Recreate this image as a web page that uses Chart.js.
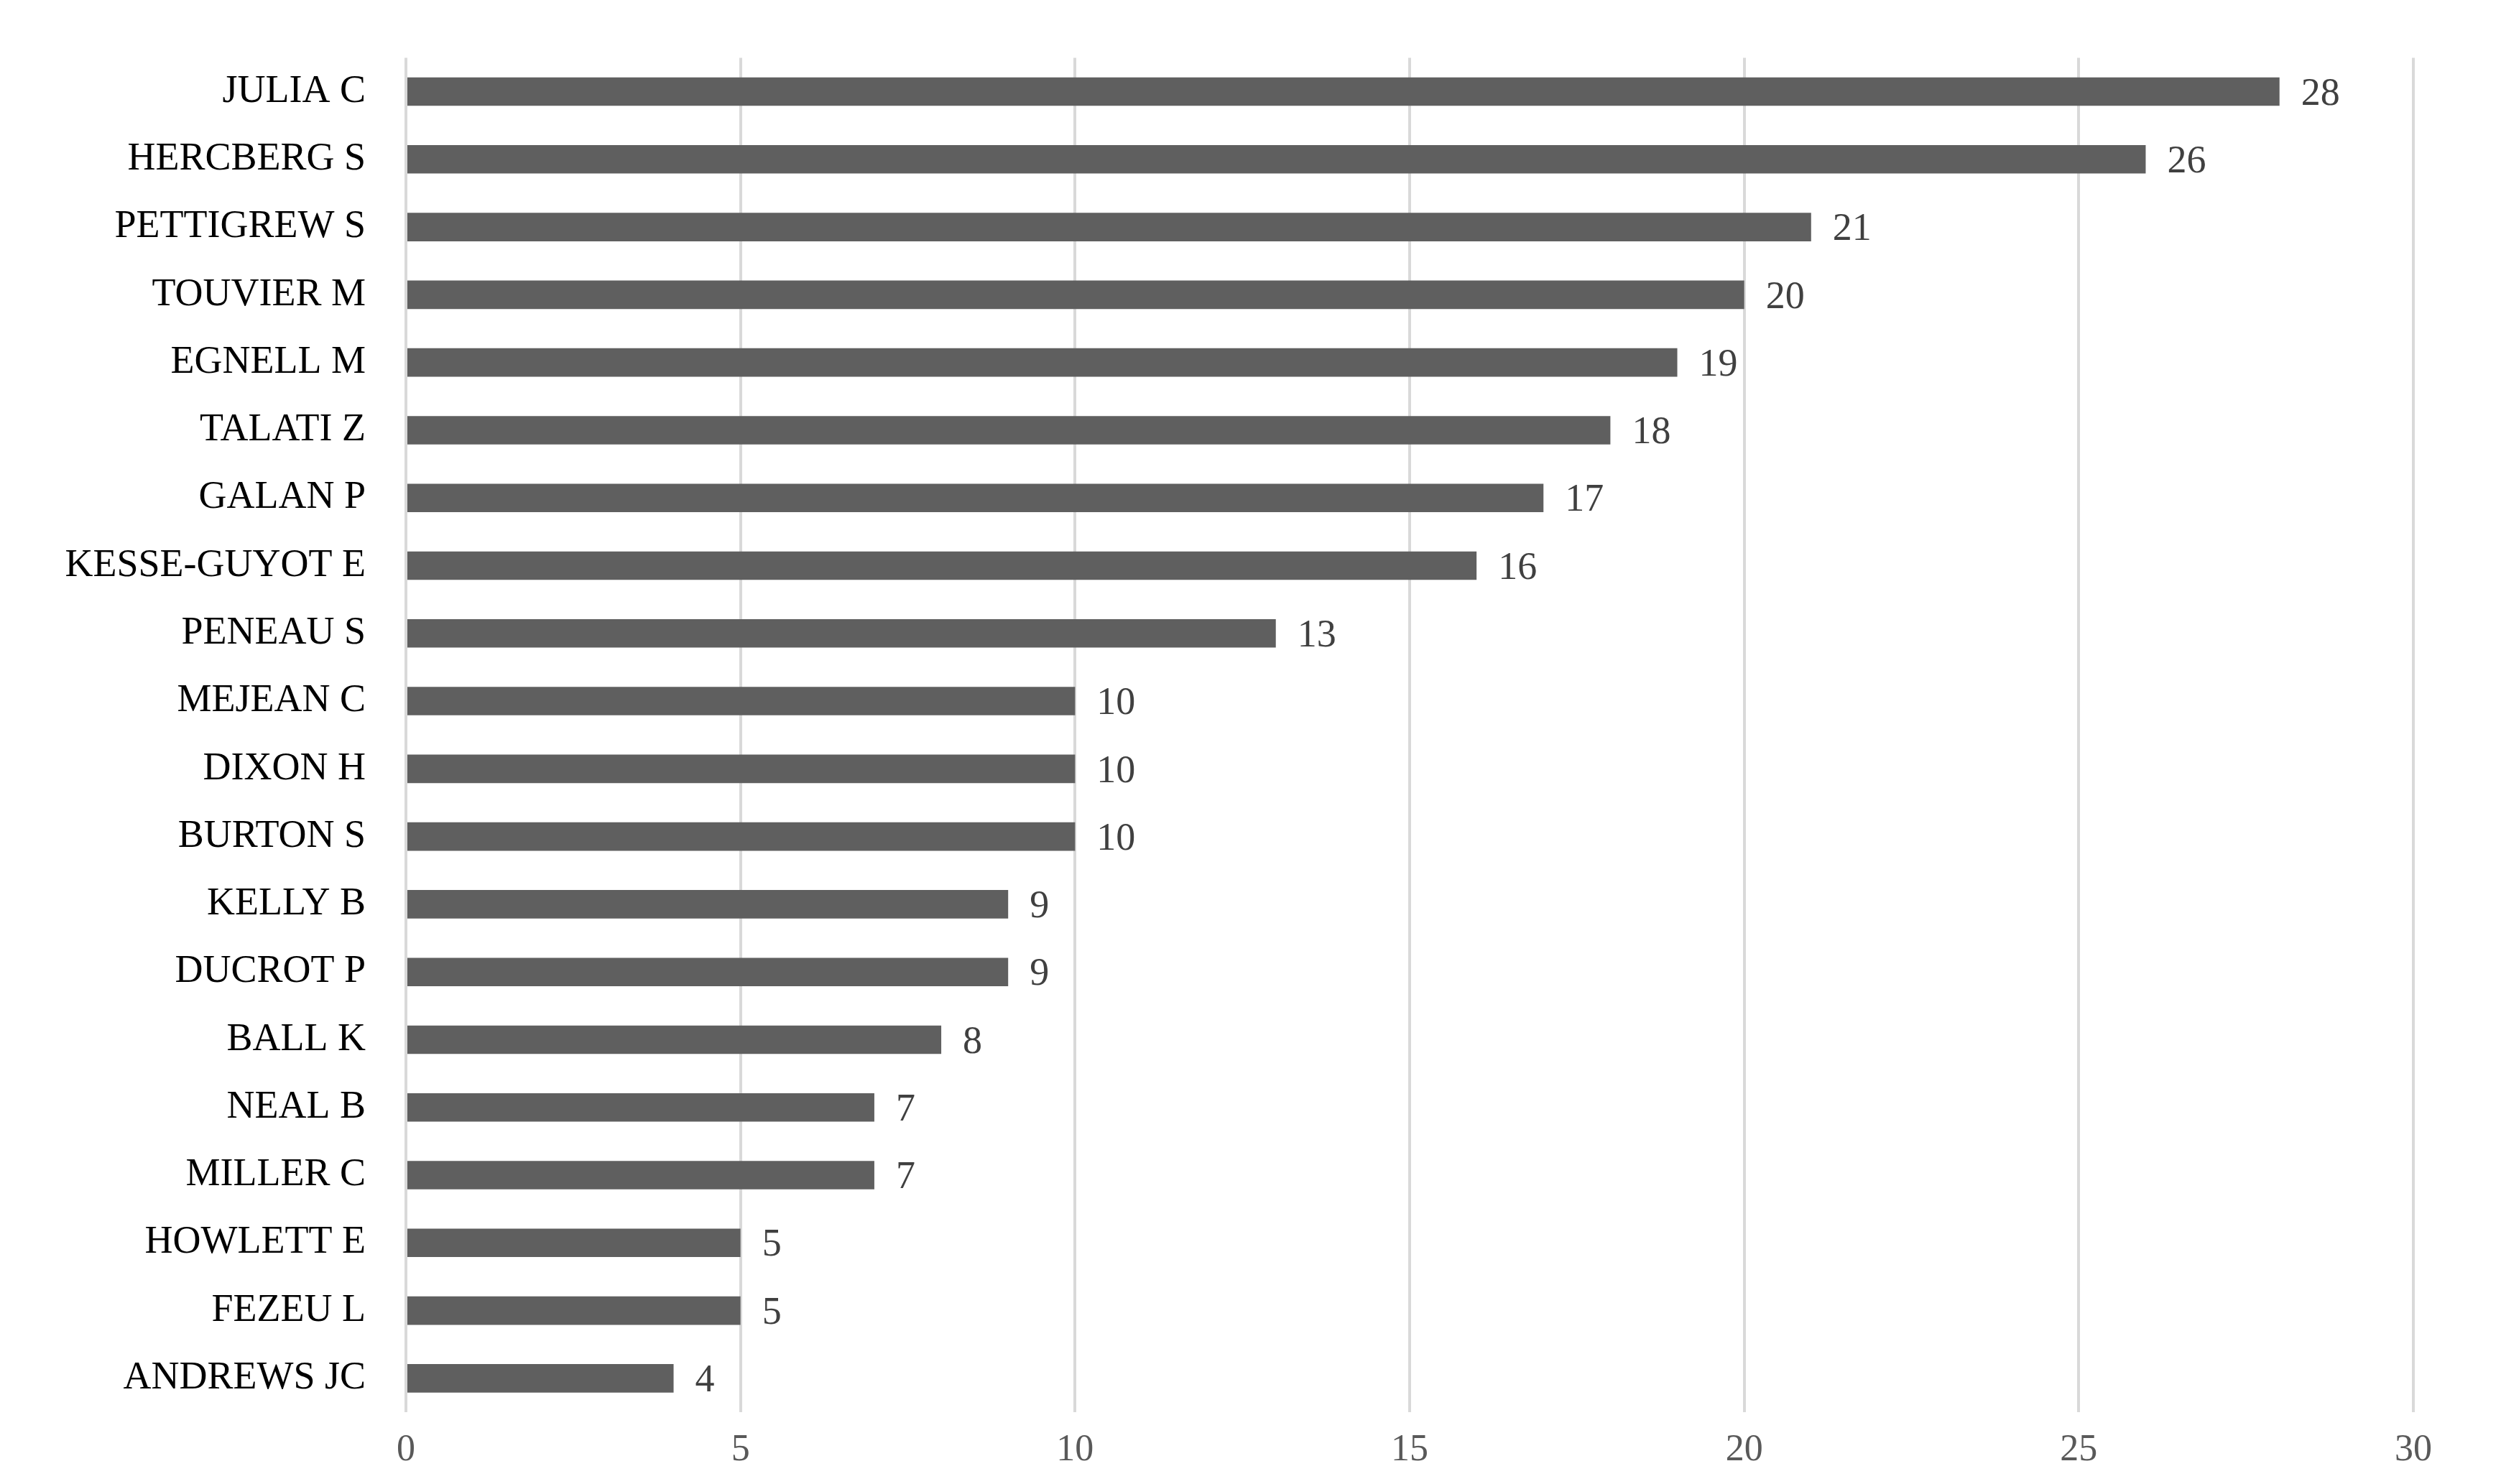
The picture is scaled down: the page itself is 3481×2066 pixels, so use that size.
<!DOCTYPE html>
<html>
<head>
<script src="https://cdn.jsdelivr.net/npm/chart.js@4"></script>
<style>body{margin:0;background:#fff}</style>
</head>
<body>
<canvas id="c" width="3481" height="2066"></canvas>
<script>
const authors = ["JULIA C","HERCBERG S","PETTIGREW S","TOUVIER M","EGNELL M","TALATI Z","GALAN P","KESSE-GUYOT E","PENEAU S","MEJEAN C","DIXON H","BURTON S","KELLY B","DUCROT P","BALL K","NEAL B","MILLER C","HOWLETT E","FEZEU L","ANDREWS JC"];
const counts = [28,26,21,20,19,18,17,16,13,10,10,10,9,9,8,7,7,5,5,4];
const xTicks = [0,5,10,15,20,25,30];

const font = "'Liberation Serif', 'Times New Roman', serif";
const labelPlugin = {
    id: "labelPlugin",
    afterDatasetsDraw(chart) {
        const ctx = chart.ctx;
        ctx.save();
        ctx.font = "54px " + font;
        ctx.fillStyle = "#404040";
        ctx.textBaseline = "middle";
        chart.getDatasetMeta(0).data.forEach((bar, i) => {
            ctx.fillText(counts[i], bar.x + 30, bar.y + 4);
        });
        ctx.restore();
    }
};

new Chart(document.getElementById("c"), {
    type: "bar",
    data: { labels: authors, datasets: [{ data: counts, backgroundColor: "#5f5f5f", barPercentage: 0.42, categoryPercentage: 1 }] },
    plugins: [labelPlugin],
    options: {
        indexAxis: "y",
        responsive: false,
        animation: false,
        layout: { padding: { top: 12, right: 122, bottom: 0 } },
        plugins: { legend: { display: false }, tooltip: { enabled: false } },
        scales: {
            x: {
                min: 0, max: 30,
                afterBuildTicks: a => { a.ticks = xTicks.map(v => ({ value: v })); },
                grid: { color: "#d9d9d9", lineWidth: 4, drawTicks: false },
                border: { display: false },
                ticks: { font: { family: font, size: 52 }, color: "#595959", padding: 22 },
                afterFit: a => { a.height = 100; }
            },
            y: {
                grid: { display: false },
                border: { display: false },
                ticks: { font: { family: font, size: 54 }, color: "#000", padding: 48 },
                afterFit: a => { a.width = 565; }
            }
        }
    }
});
</script>
</body>
</html>
